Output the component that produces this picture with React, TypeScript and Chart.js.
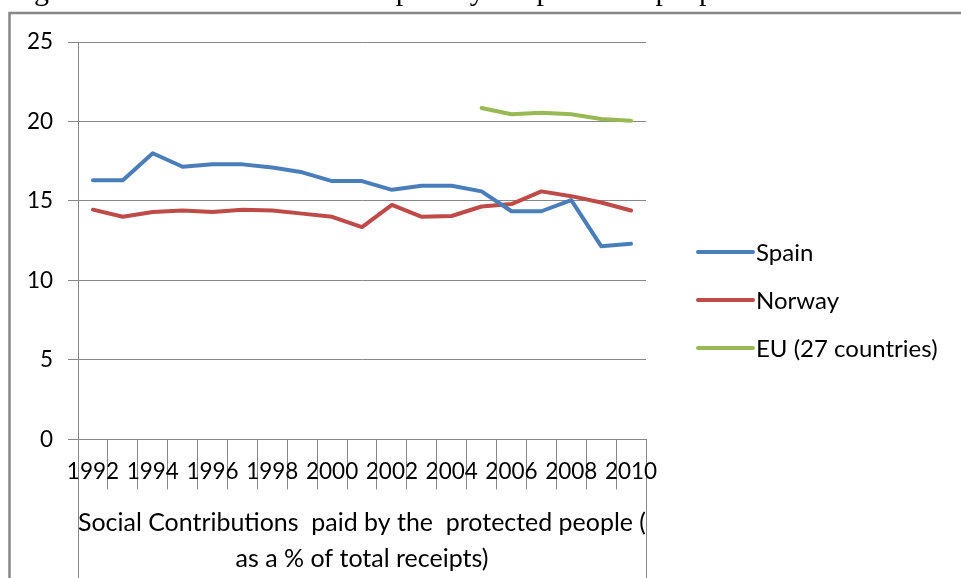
import React, { useEffect, useRef } from 'react';
import { Chart, registerables } from 'chart.js';

Chart.register(...registerables);

// Years on the category axis (every other one is labelled)
const years = [
  '1992', '1993', '1994', '1995', '1996', '1997', '1998', '1999', '2000', '2001',
  '2002', '2003', '2004', '2005', '2006', '2007', '2008', '2009', '2010',
];

// Social contributions paid by the protected people, % of total receipts
const spain = [16.3, 16.3, 18.0, 17.15, 17.3, 17.3, 17.1, 16.8, 16.25, 16.25, 15.7, 15.95, 15.95, 15.6, 14.35, 14.35, 15.05, 12.15, 12.3];
const norway = [14.45, 14.0, 14.3, 14.4, 14.3, 14.45, 14.4, 14.2, 14.0, 13.35, 14.75, 14.0, 14.05, 14.65, 14.8, 15.6, 15.3, 14.9, 14.4];
const eu27 = [null, null, null, null, null, null, null, null, null, null, null, null, null, 20.85, 20.45, 20.55, 20.45, 20.15, 20.05];

const seriesNames = ['Spain', 'Norway', 'EU (27 countries)'];
const seriesColors = ['#4A7EBB', '#BE4B48', '#98B954'];

const yMin = 0;
const yMax = 25;
const yStep = 5;

const axisTitle = ['Social Contributions  paid by the  protected people (', 'as a % of total receipts)'];
const caption = 'Figure 10: Social Contributions paid by the protected people as a % of total receipts';

const FONT = 'Lato, "Noto Sans", sans-serif';
const GRID = '#878787';
const W = 961;
const H = 578;

// Page furniture: caption above the frame, frame edge, long outer category
// separators and the legend at the right.
const decorations = {
  id: 'decorations',
  afterDraw(chart: any) {
    const ctx = chart.ctx as CanvasRenderingContext2D;
    const { left, right, bottom } = chart.chartArea;
    ctx.save();

    ctx.fillStyle = '#000';
    ctx.font = '30px "Liberation Serif", serif';
    ctx.textBaseline = 'alphabetic';
    ctx.textAlign = 'left';
    ctx.fillText(caption, 9, 0);

    ctx.strokeStyle = GRID;
    ctx.lineWidth = 2.5;
    ctx.beginPath();
    ctx.moveTo(9.5, H);
    ctx.lineTo(9.5, 13);
    ctx.lineTo(W, 13);
    ctx.stroke();

    ctx.lineWidth = 1;
    ctx.beginPath();
    const x0 = Math.round(left) + 0.5;
    const x1 = Math.round(right) + 0.5;
    ctx.moveTo(x0, bottom + 50);
    ctx.lineTo(x0, H);
    ctx.moveTo(x1, bottom + 50);
    ctx.lineTo(x1, H);
    ctx.stroke();

    const lx = 698;
    const lw = 55;
    const ly0 = 252;
    const gap = 48;
    ctx.font = `24px ${FONT}`;
    ctx.textBaseline = 'middle';
    chart.data.datasets.forEach((ds: any, i: number) => {
      const y = ly0 + i * gap;
      ctx.strokeStyle = ds.borderColor;
      ctx.lineWidth = 4;
      ctx.lineCap = 'round';
      ctx.beginPath();
      ctx.moveTo(lx, y);
      ctx.lineTo(lx + lw, y);
      ctx.stroke();
      ctx.fillStyle = '#000';
      ctx.fillText(ds.label, lx + lw + 3, y + 1);
    });
    ctx.restore();
  },
};

export default function App() {
  const ref = useRef<HTMLCanvasElement | null>(null);

  useEffect(() => {
    if (!ref.current) return;
    const series = [spain, norway, eu27];
    const chart = new Chart(ref.current, {
      type: 'line',
      data: {
        labels: years,
        datasets: series.map((d, i) => ({
          label: seriesNames[i],
          data: d,
          borderColor: seriesColors[i],
          backgroundColor: seriesColors[i],
          borderWidth: 4,
          pointRadius: 0,
          tension: 0,
          borderJoinStyle: 'round' as const,
          borderCapStyle: 'round' as const,
          spanGaps: false,
        })),
      },
      options: {
        responsive: false,
        animation: false,
        events: [],
        layout: { padding: { left: 0, top: 42, right: W - 646, bottom: 0 } },
        plugins: {
          legend: { display: false },
          tooltip: { enabled: false },
          title: { display: false },
        },
        scales: {
          x: {
            type: 'category',
            offset: true,
            grid: {
              offset: true,
              drawOnChartArea: false,
              drawTicks: true,
              tickLength: 50,
              color: GRID,
              lineWidth: 1,
            },
            border: { display: true, color: GRID, width: 1 },
            ticks: {
              autoSkip: false,
              maxRotation: 0,
              minRotation: 0,
              padding: -31,
              color: '#000',
              font: { family: FONT, size: 22.5 },
              callback: (_v: any, i: number) => (i % 2 === 0 ? years[i] : ''),
            },
            title: {
              display: true,
              text: axisTitle,
              color: '#000',
              font: { family: FONT, size: 25, lineHeight: 36 / 25 },
              padding: { top: 0, bottom: 1 },
            },
            afterFit: (s: any) => {
              s.height = H - 439.3;
            },
          },
          y: {
            min: yMin,
            max: yMax,
            ticks: {
              stepSize: yStep,
              padding: 15,
              color: '#000',
              font: { family: FONT, size: 22.5 },
            },
            grid: {
              color: GRID,
              lineWidth: 1,
              drawTicks: true,
              tickLength: 10,
            },
            border: { display: true, color: GRID, width: 1 },
            afterFit: (s: any) => {
              s.width = 78;
            },
          },
        },
      },
      plugins: [decorations],
    });
    return () => chart.destroy();
  }, []);

  return (
    <div style={{ position: 'fixed', left: 0, top: 0, width: W, height: H, background: '#fff' }}>
      <canvas ref={ref} width={W} height={H} style={{ display: 'block' }} />
    </div>
  );
}
